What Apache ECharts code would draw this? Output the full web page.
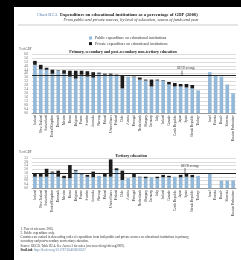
<!DOCTYPE html>
<html>
<head>
<meta charset="utf-8">
<script src="https://cdn.jsdelivr.net/npm/echarts@6/dist/echarts.min.js"></script>
<style>
  html, body { margin: 0; padding: 0; background: #fff; }
  #chart { width: 241px; height: 260px; }
</style>
</head>
<body>
<div id="chart"></div>
<script>
// countries, ranked by primary/secondary total; '' is the gap before partner countries
const countries = ['Iceland', 'New Zealand', 'Switzerland', 'United Kingdom', 'Denmark', 'Mexico', 'Korea',
  'Belgium', 'France', 'Sweden', 'Australia', 'Norway', 'Poland', 'United States', 'Finland', 'Chile',
  'Austria', 'Portugal', 'Netherlands', 'Hungary', 'Germany', 'Italy', 'Ireland', 'Canada¹',
  'Czech Republic', 'Japan', 'Spain', 'Slovak Republic', 'Turkey²', '',
  'Israel', 'Estonia', 'Brazil²', 'Slovenia', 'Russian Federation¹'];

// primary, secondary and post-secondary non-tertiary (% of GDP)
const primPublic = [4.9, 4.45, 4.4, 4.0, 4.3, 4.0, 3.7, 3.5, 3.9, 3.7, 3.6, 4.0, 3.9, 3.9, 3.8, 2.5,
  3.7, 3.65, 3.4, 3.3, 2.7, 3.3, 3.3, 2.9, 2.7, 2.7, 2.6, 2.5, 2.3, null,
  4.15, 3.8, 3.7, 2.9, 2.0];
const primPrivate = [0.4, 0.45, 0.2, 0.4, 0.05, 0.35, 0.6, 0.8, 0.4, 0.55, 0.55, 0.1, 0.1, 0.1, 0.1, 1.3,
  0, 0.05, 0.2, 0.1, 0.7, 0.1, 0.05, 0.25, 0.35, 0.25, 0.35, 0.35, 0, null,
  0, 0, 0, 0, 0];

// tertiary (% of GDP)
const tertPublic = [1.2, 1.2, 1.2, 1.65, 1.2, 1.05, 1.05, 1.8, 1.45, 1.2, 1.15, 1.3, 1.2, 1.2, 1.9, 0.85,
  1.05, 1.15, 1.15, 1.05, 1.15, 1.05, 1.15, 1.15, 1.2, 1.15, 1.2, 1.15, 1.3, null,
  1.5, null, 0.8, 0.8, 0.8];
const tertPrivate = [0.3, 0.35, 0.85, 0.1, 0.65, 0.25, 1.4, 0.1, 0.1, 0.2, 0.6, 0, 0.3, 1.85, 0.2, 1.0,
  0, 0.45, 0.05, 0.15, 0, 0.15, 0.25, 0.15, 0, 0.25, 0.3, 0.25, 0, null,
  0, null, 0, 0, 0];

const oecdAverage = [3.8, 1.6];

const seriesNames = ['Public expenditure on educational institutions',
  'Private expenditure on educational institutions'];

const notes = [
  '1. Year of reference 2005.',
  '2. Public expenditure only.',
  'Countries are ranked in descending order of expenditure from both public and private sources on educational institutions in primary,',
  'secondary and post-secondary non-tertiary education.',
  'Source: OECD. Table B2.4. See Annex 3 for notes (www.oecd.org/edu/eag2009).'
];

const BLUE = '#93b8d8';
const DARK = '#1b1b1b';
const SERIF = '"Liberation Serif", "DejaVu Serif", serif';

const chart = echarts.init(document.getElementById('chart'), null, { renderer: 'canvas' });

function xAxisFor(idx) {
  return {
    type: 'category', gridIndex: idx, data: countries,
    axisTick: { show: false },
    axisLine: { lineStyle: { color: '#9a9a9a', width: 1 } },
    axisLabel: { interval: 0, rotate: 90, fontSize: 3.3, fontFamily: SERIF, color: '#333', margin: 2 }
  };
}

function yAxisFor(idx, max) {
  return {
    type: 'value', gridIndex: idx, min: 0, max: max, interval: 0.4,
    axisLine: { show: false }, axisTick: { show: false },
    axisLabel: { fontSize: 3, fontFamily: SERIF, color: '#555', margin: 4,
      formatter: v => v.toFixed(1) },
    splitLine: { lineStyle: { color: '#dcdcdc', width: 1 } }
  };
}

function avgLine(v) {
  return {
    silent: true, symbol: 'none', label: { show: false },
    lineStyle: { color: '#222', width: 1, type: 'solid' },
    data: [{ yAxis: v }]
  };
}

const option = {
  backgroundColor: '#fff',
  animation: false,
  textStyle: { fontFamily: SERIF },
  legend: {
    orient: 'vertical', left: 84, top: 31, itemGap: 1.6,
    itemWidth: 3, itemHeight: 3, icon: 'rect',
    textStyle: { fontSize: 3.9, fontFamily: SERIF, color: '#333', padding: [0, 0, 0, -2] },
    data: seriesNames
  },
  grid: [
    { left: 32, right: 5, top: 54, height: 59 },
    { left: 32, right: 5, top: 158, height: 30 }
  ],
  xAxis: [xAxisFor(0), xAxisFor(1)],
  yAxis: [yAxisFor(0, 6), yAxisFor(1, 3.2)],
  series: [
    { name: seriesNames[0], type: 'bar', stack: 'p', xAxisIndex: 0, yAxisIndex: 0,
      data: primPublic, barWidth: '62%', itemStyle: { color: BLUE }, markLine: avgLine(oecdAverage[0]) },
    { name: seriesNames[1], type: 'bar', stack: 'p', xAxisIndex: 0, yAxisIndex: 0,
      data: primPrivate, barWidth: '62%', itemStyle: { color: DARK } },
    { name: seriesNames[0], type: 'bar', stack: 't', xAxisIndex: 1, yAxisIndex: 1,
      data: tertPublic, barWidth: '62%', itemStyle: { color: BLUE }, markLine: avgLine(oecdAverage[1]) },
    { name: seriesNames[1], type: 'bar', stack: 't', xAxisIndex: 1, yAxisIndex: 1,
      data: tertPrivate, barWidth: '62%', itemStyle: { color: DARK } }
  ]
};

chart.setOption(option);

// decorations: frame, titles, notes, OECD average labels
const y0 = chart.convertToPixel({ yAxisIndex: 0 }, oecdAverage[0]);
const y1 = chart.convertToPixel({ yAxisIndex: 1 }, oecdAverage[1]);

function txt(x, y, text, font, fill, align) {
  return { type: 'text', silent: true, z: 10,
    style: { x: x, y: y, text: text, font: font, fill: fill || '#222',
      textAlign: align || 'left', textVerticalAlign: 'middle' } };
}

const graphic = [
  { type: 'rect', shape: { x: 0, y: 0, width: 241, height: 7 }, style: { fill: '#000' }, z: 20 },
  { type: 'rect', shape: { x: 0, y: 0, width: 14, height: 260 }, style: { fill: '#000' }, z: 20 },
  txt(37, 15, 'Chart B2.3.', '4.6px ' + SERIF, '#5d7fa8'),
  txt(60, 15, 'Expenditure on educational institutions as a percentage of GDP (2006)', 'bold 4.6px ' + SERIF, '#222'),
  txt(131, 19.8, 'From public and private sources, by level of education, source of funds and year', 'italic 4.2px ' + SERIF, '#333', 'center'),
  { type: 'line', shape: { x1: 18, y1: 25, x2: 238, y2: 25 }, style: { stroke: '#aaa', lineWidth: 0.6 } },
  txt(19, 49.5, '% of GDP', '3px ' + SERIF, '#444'),
  txt(123, 51.5, 'Primary, secondary and post-secondary non-tertiary education', 'bold 4px ' + SERIF, '#222', 'center'),
  txt(19, 152.7, '% of GDP', '3px ' + SERIF, '#444'),
  txt(131, 155.7, 'Tertiary education', 'bold 4px ' + SERIF, '#222', 'center'),
  txt(186, y0 - 7, 'OECD average', '3px ' + SERIF, '#333', 'center'),
  { type: 'line', shape: { x1: 182, y1: y0 - 5, x2: 182, y2: y0 }, style: { stroke: '#222', lineWidth: 0.6 } },
  txt(190, y1 - 7, 'OECD average', '3px ' + SERIF, '#333', 'center'),
  { type: 'line', shape: { x1: 185, y1: y1 - 5, x2: 185, y2: y1 }, style: { stroke: '#222', lineWidth: 0.6 } }
];

notes.forEach((n, i) => {
  graphic.push(txt(20.5, 229 + i * 4.2, n, '3.2px ' + SERIF, '#333'));
});
graphic.push(txt(20.5, 250.3, 'StatLink', 'bold 3.2px ' + SERIF, '#222'));
graphic.push(txt(34, 250.3, 'http://dx.doi.org/10.1787/664006656637', '3.2px ' + SERIF, '#5d7fa8'));

chart.setOption({ graphic: graphic });
</script>
</body>
</html>
